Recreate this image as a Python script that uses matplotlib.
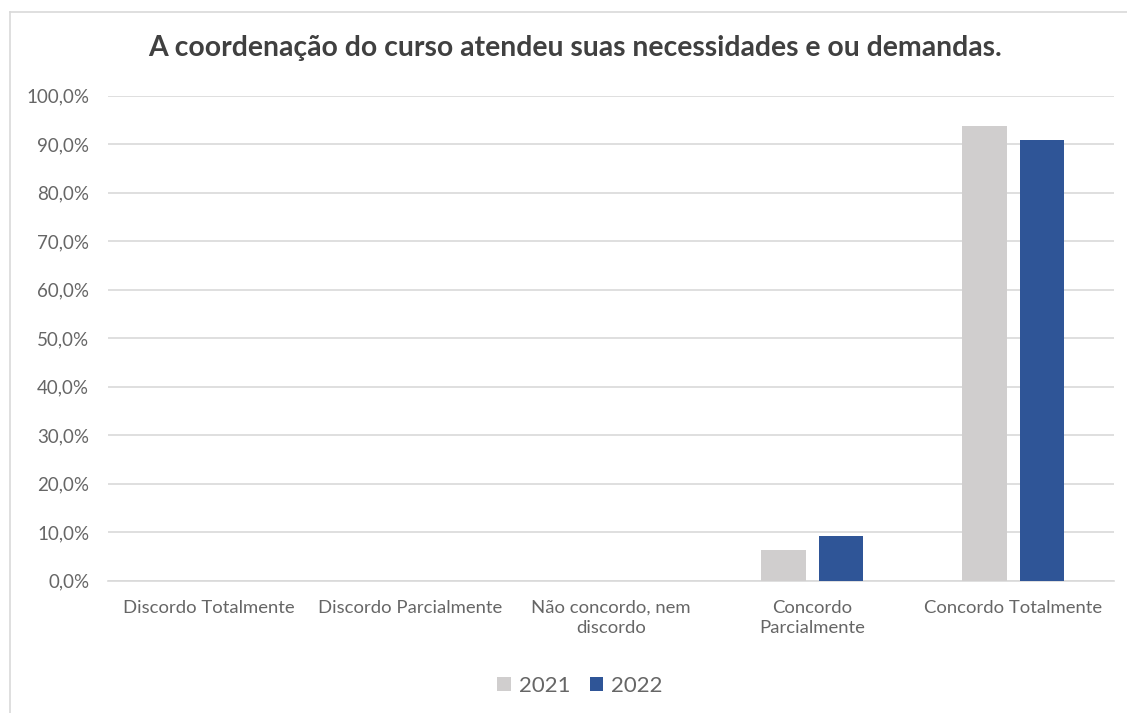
import matplotlib
matplotlib.use("Agg")
import matplotlib.pyplot as plt
from matplotlib.lines import Line2D
from matplotlib.ticker import FuncFormatter
import numpy as np

categories = [
    "Discordo Totalmente",
    "Discordo Parcialmente",
    "Não concordo, nem\ndiscordo",
    "Concordo\nParcialmente",
    "Concordo Totalmente",
]
series_names = ["2021", "2022"]
values_2021 = [0.0, 0.0, 0.0, 6.25, 93.75]
values_2022 = [0.0, 0.0, 0.0, 9.09, 90.91]
y_ticks = [0, 10, 20, 30, 40, 50, 60, 70, 80, 90, 100]
title = "A coordenação do curso atendeu suas necessidades e ou demandas."

color_2021 = "#D0CECE"
color_2022 = "#2F5597"
text_color = "#666666"
grid_color = "#D9D9D9"

plt.rcParams["font.family"] = ["Lato", "DejaVu Sans"]

W, H = 1127, 713
fig = plt.figure(figsize=(W / 100, H / 100), dpi=100)
fig.patch.set_facecolor("white")

# chart-area border (left and top edges)
fig.add_artist(Line2D([10 / W, 10 / W], [0, 1 - 12 / H], transform=fig.transFigure,
                      color=grid_color, lw=1.2))
fig.add_artist(Line2D([10 / W, 1], [1 - 12 / H, 1 - 12 / H], transform=fig.transFigure,
                      color=grid_color, lw=1.2))

ax = fig.add_axes([108 / W, 1 - 580.5 / H, (1114 - 108) / W, (580.5 - 95.7) / H])

x = np.arange(len(categories))
bar_w = 0.221
offset = 0.143
ax.bar(x - offset, values_2021, width=bar_w, color=color_2021, label=series_names[0], zorder=3)
ax.bar(x + offset, values_2022, width=bar_w, color=color_2022, label=series_names[1], zorder=3)

ax.set_xlim(-0.5, len(categories) - 0.5)
ax.set_ylim(0, 100)
ax.set_yticks(y_ticks)
ax.yaxis.set_major_formatter(FuncFormatter(lambda v, p: f"{v:.1f}%".replace(".", ",")))
ax.yaxis.grid(True, color=grid_color, lw=1.2, zorder=0)
ax.set_axisbelow(True)

ax.set_xticks(x)
ax.set_xticklabels(categories, color=text_color, fontsize=13.3, linespacing=1.3)
ax.tick_params(axis="x", length=0, pad=14)
ax.tick_params(axis="y", length=0, pad=13.5, labelsize=13.5, labelcolor=text_color)

for side in ["top", "right", "left"]:
    ax.spines[side].set_visible(False)
ax.spines["bottom"].set_color(grid_color)
ax.spines["bottom"].set_linewidth(1.2)

fig.text(575.5 / W, 1 - 48 / H, title, ha="center", va="center",
         fontsize=20.4, fontweight="bold", color="#404040")

leg = fig.legend(loc="center", bbox_to_anchor=(580 / W, 1 - 686 / H), ncol=2,
                 frameon=False, fontsize=16, handlelength=0.6, handleheight=0.6,
                 handletextpad=0.35, columnspacing=0.9)
for t in leg.get_texts():
    t.set_color(text_color)

fig.savefig("out.png", dpi=100, facecolor="white")
